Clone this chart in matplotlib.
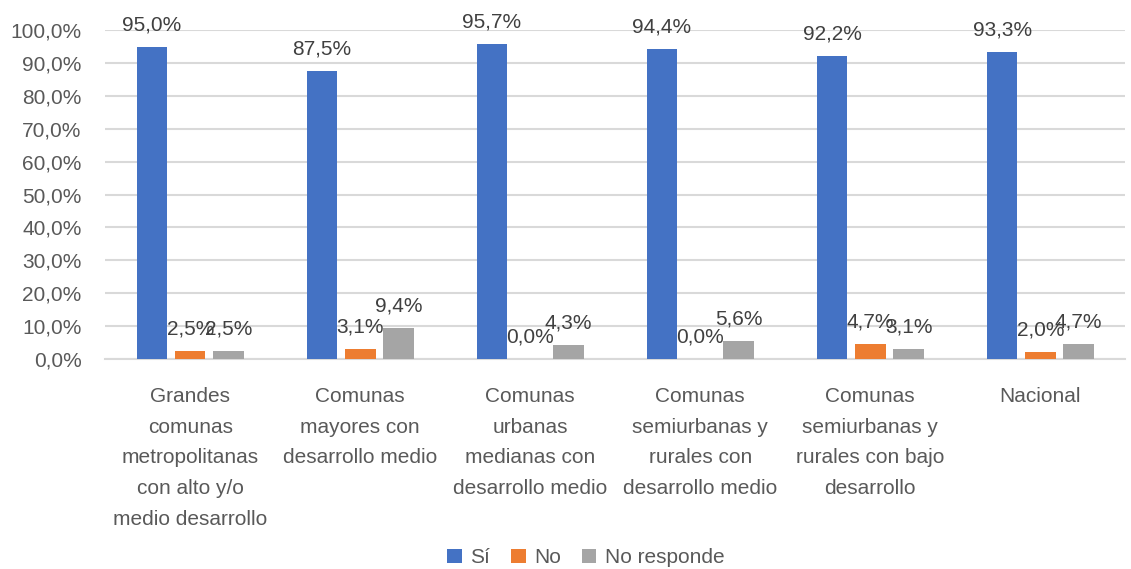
import numpy as np
import matplotlib.pyplot as plt
from matplotlib.ticker import FuncFormatter, MultipleLocator

plt.rcParams['font.family'] = ['Liberation Sans', 'DejaVu Sans']

categories = [
    'Grandes\ncomunas\nmetropolitanas\ncon alto y/o\nmedio desarrollo',
    'Comunas\nmayores con\ndesarrollo medio',
    'Comunas\nurbanas\nmedianas con\ndesarrollo medio',
    'Comunas\nsemiurbanas y\nrurales con\ndesarrollo medio',
    'Comunas\nsemiurbanas y\nrurales con bajo\ndesarrollo',
    'Nacional',
]
series_names = ['Sí', 'No', 'No responde']
si = [95.0, 87.5, 95.7, 94.4, 92.2, 93.3]
no = [2.5, 3.1, 0.0, 0.0, 4.7, 2.0]
no_responde = [2.5, 9.4, 4.3, 5.6, 3.1, 4.7]

colors = ['#4472C4', '#ED7D31', '#A5A5A5']
text_color = '#595959'
font_size = 15

fig = plt.figure(figsize=(11.31, 5.69), dpi=100)
ax = fig.add_axes([0.093, 0.369, 0.902, 0.578])

x = np.arange(len(categories))
width = 0.18
step = 0.225

for i, (vals, name) in enumerate(zip([si, no, no_responde], series_names)):
    xpos = x + (i - 1) * step
    ax.bar(xpos, vals, width=width, color=colors[i], label=name, zorder=3)
    for xp, v in zip(xpos, vals):
        ax.annotate(f"{v:.1f}%".replace('.', ','), (xp, v),
                    xytext=(0, 9), textcoords='offset points',
                    ha='center', va='bottom', fontsize=font_size,
                    color='#404040', zorder=4)

ax.set_xlim(-0.5, len(categories) - 0.5)
ax.set_ylim(0, 100)
ax.yaxis.set_major_locator(MultipleLocator(10))
ax.yaxis.set_major_formatter(FuncFormatter(lambda v, p: f"{v:.1f}%".replace('.', ',')))
ax.grid(axis='y', color='#d9d9d9', linewidth=1.5, zorder=0)

ax.set_xticks(x)
ax.set_xticklabels(categories, fontsize=font_size, color=text_color, linespacing=1.78)
ax.tick_params(axis='both', length=0, labelsize=font_size, labelcolor=text_color)
ax.tick_params(axis='x', pad=20)
ax.tick_params(axis='y', pad=17)

for s in ['top', 'right', 'left']:
    ax.spines[s].set_visible(False)
ax.spines['bottom'].set_color('#d9d9d9')
ax.spines['bottom'].set_linewidth(1.5)

fig.legend(loc='lower center', bbox_to_anchor=(0.518, -0.03), ncol=3,
           frameon=False, fontsize=font_size, handlelength=0.7, handleheight=0.7,
           handletextpad=0.4, columnspacing=1.0, labelcolor=text_color)

fig.savefig('out.png', dpi=100)
